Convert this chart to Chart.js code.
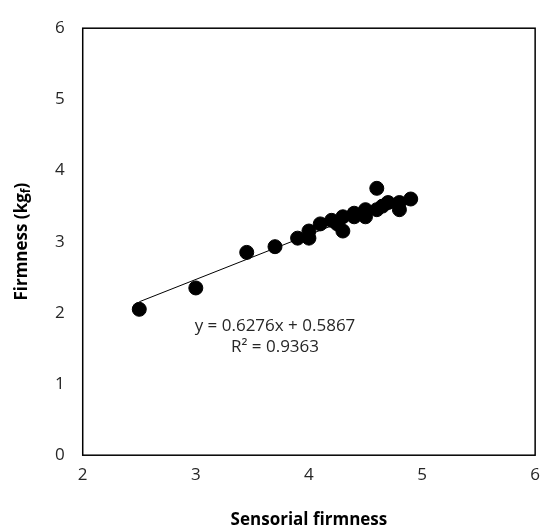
<!DOCTYPE html>
<html>
<head>
<meta charset="utf-8">
<script src="https://cdn.jsdelivr.net/npm/chart.js@4/dist/chart.umd.min.js"></script>
<style>body{margin:0;background:#fff}#wrap{width:550px;height:532px}</style>
</head>
<body>
<div id="wrap"><canvas id="c"></canvas></div>
<script>
var sensorial = [2.5, 3.0, 3.45, 3.7, 3.9, 4.0, 4.0, 4.1, 4.2, 4.25, 4.3, 4.3, 4.4, 4.4, 4.5, 4.5, 4.6, 4.6, 4.65, 4.7, 4.8, 4.8, 4.9];
var firmness  = [2.05, 2.35, 2.85, 2.93, 3.05, 3.05, 3.15, 3.25, 3.3, 3.25, 3.15, 3.35, 3.4, 3.35, 3.35, 3.45, 3.45, 3.75, 3.5, 3.55, 3.45, 3.55, 3.6];
var slope = 0.6276, intercept = 0.5867;
var fitX = [2.5, 4.9];
var equation = ["y = 0.6276x + 0.5867", "R² = 0.9363"];

var pts = sensorial.map((x, i) => ({x: x, y: firmness[i]}));
var line = fitX.map(x => ({x: x, y: slope * x + intercept}));

var extras = {
  id: "extras",
  afterDraw(chart) {
    var ctx = chart.ctx, a = chart.chartArea, sx = chart.scales.x, sy = chart.scales.y;
    ctx.save();
    ctx.strokeStyle = "#000"; ctx.lineWidth = 1.5;
    ctx.strokeRect(a.left, a.top, a.right - a.left, a.bottom - a.top);
    ctx.fillStyle = "#262626";
    ctx.font = "17px 'Open Sans'";
    ctx.textAlign = "center";
    ctx.fillText(equation[0], sx.getPixelForValue(3.7), sy.getPixelForValue(1.75));
    ctx.fillText(equation[1], sx.getPixelForValue(3.7), sy.getPixelForValue(1.45));
    // y-axis title with subscript
    ctx.fillStyle = "#000";
    ctx.translate(22, (a.top + a.bottom) / 2);
    ctx.rotate(-Math.PI / 2);
    ctx.font = "bold 17px 'Open Sans'";
    var t1 = "Firmness (kg", t2 = "f", t3 = ")";
    var w1 = ctx.measureText(t1).width, w3 = ctx.measureText(t3).width;
    ctx.font = "bold 12px 'Open Sans'";
    var w2 = ctx.measureText(t2).width;
    var x0 = -(w1 + w2 + w3) / 2;
    ctx.textAlign = "left"; ctx.textBaseline = "middle";
    ctx.font = "bold 17px 'Open Sans'";
    ctx.fillText(t1, x0, 0);
    ctx.font = "bold 12px 'Open Sans'";
    ctx.fillText(t2, x0 + w1, 5);
    ctx.font = "bold 17px 'Open Sans'";
    ctx.fillText(t3, x0 + w1 + w2, 0);
    ctx.restore();
  }
};

new Chart(document.getElementById("c"), {
  type: "scatter",
  data: {datasets: [
    {data: pts, backgroundColor: "#000", borderColor: "#000", pointRadius: 7, pointHoverRadius: 7},
    {type: "line", data: line, borderColor: "#000", borderWidth: 1, pointRadius: 0, fill: false}
  ]},
  options: {
    animation: false, responsive: true, maintainAspectRatio: false,
    layout: {padding: {left: 37, right: -19, top: 21, bottom: 2}},
    plugins: {legend: {display: false}, tooltip: {enabled: false}},
    scales: {
      x: {min: 2, max: 6, grid: {display: false, drawTicks: false}, border: {display: false},
          ticks: {stepSize: 1, color: "#262626", font: {size: 17, family: "Open Sans"}, padding: 10},
          title: {display: true, text: "Sensorial firmness", color: "#000", font: {size: 17, weight: "bold", family: "Open Sans"}, padding: {top: 14, bottom: 0}}},
      y: {min: 0, max: 6, grid: {display: false, drawTicks: false}, border: {display: false},
          ticks: {stepSize: 1, color: "#262626", font: {size: 17, family: "Open Sans"}, padding: 18}}
    }
  },
  plugins: [extras]
});
</script>
</body>
</html>
